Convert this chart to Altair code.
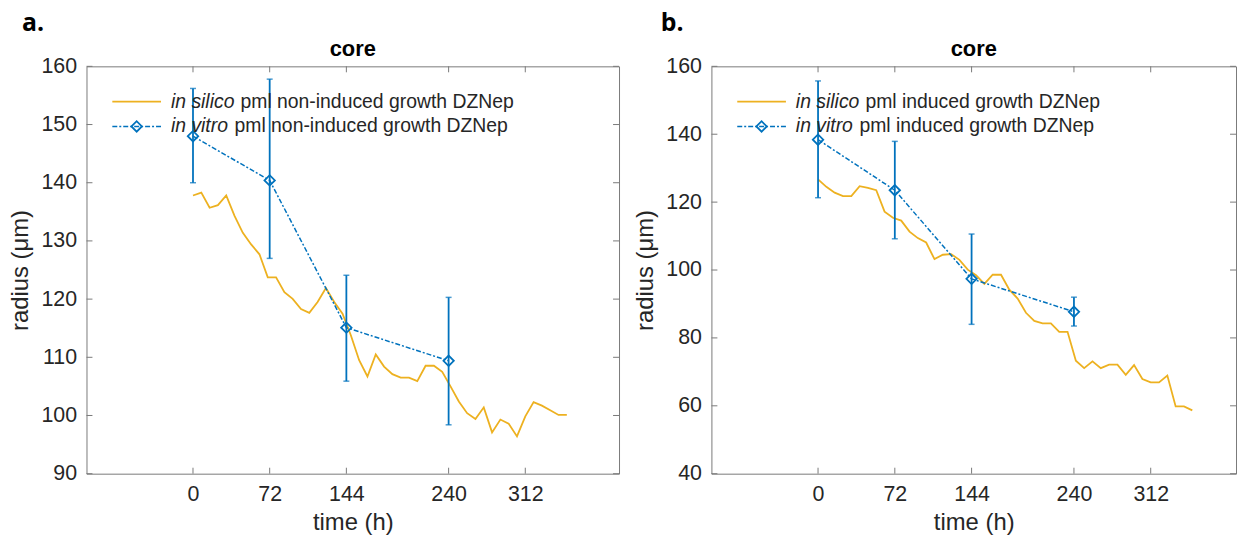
import altair as alt
import pandas as pd

# ---------------- data ----------------
time_ticks = [0, 72, 144, 240, 312]
sim_time = [0, 7.8, 15.6, 23.4, 31.2, 39, 46.8, 54.6, 62.4, 70.2, 78, 85.8, 93.6, 101.4,
            109.2, 117, 124.8, 132.6, 140.4, 148.2, 156, 163.8, 171.6, 179.4, 187.2, 195,
            202.8, 210.6, 218.4, 226.2, 234, 241.8, 249.6, 257.4, 265.2, 273, 280.8, 288.6,
            296.4, 304.2, 312, 319.8, 327.6, 335.4, 343.2, 351]
a_sim = [137.8, 138.3, 135.7, 136.15, 137.8, 134.3, 131.4, 129.4, 127.7, 123.75,
         123.75, 121.2, 120.05, 118.3, 117.65, 119.5, 121.9, 119.5, 117.5, 113.8,
         109.5, 106.7, 110.5, 108.4, 107.1, 106.5, 106.5, 105.9, 108.55, 108.55,
         107.5, 105.0, 102.4, 100.4, 99.4, 101.4, 97.1, 99.3, 98.6, 96.4,
         99.85, 102.3, 101.7, 100.9, 100.1, 100.1]
b_sim = [126.7, 124.5, 122.8, 121.75, 121.75, 124.7, 124.2, 123.5, 117.2, 115.4,
         114.55, 111.3, 109.4, 108.1, 103.2, 104.5, 104.7, 103.0, 100.1, 98.45,
         95.9, 98.6, 98.6, 94.2, 91.6, 87.4, 85.0, 84.3, 84.3, 81.8,
         81.8, 73.3, 71.1, 73.1, 71.1, 72.1, 72.1, 69.1, 72.0, 67.9,
         66.9, 66.9, 68.9, 59.8, 59.8, 58.65]

exp_time = [0, 72, 144, 240]
a_exp = [148.0, 140.4, 115.1, 109.4]
a_lo = [140.0, 127.0, 105.9, 98.4]
a_hi = [156.2, 157.8, 124.1, 120.3]
b_exp = [138.4, 123.5, 97.4, 87.7]
b_lo = [121.3, 109.2, 84.0, 83.5]
b_hi = [155.7, 137.9, 110.6, 92.0]

a_yticks = [90, 100, 110, 120, 130, 140, 150, 160]
b_yticks = [40, 60, 80, 100, 120, 140, 160]

ORANGE = "#EDB120"
BLUE = "#0072BD"
FRAME = "#7a7a7a"
TXT = "#262626"
H = 410
TICK = 6


def const_df():
    return pd.DataFrame({"k": [0]})


def panel(sim_vals, exp_vals, lo, hi, yticks, ydom, width, xdom, letter, letter_x,
          silico_rest, vitro_rest, rest_x1, rest_x2):
    xs = alt.Scale(domain=xdom, nice=False, zero=False)
    ys = alt.Scale(domain=ydom, nice=False, zero=False)
    xaxis = alt.Axis(values=time_ticks, title="time (h)")
    yaxis = alt.Axis(values=yticks, title="radius (μm)")
    sim = pd.DataFrame({"t": sim_time, "r": sim_vals})
    exp = pd.DataFrame({"t": exp_time, "r": exp_vals, "lo": lo, "hi": hi})

    def X(f="t"):
        return alt.X(f + ":Q", scale=xs, axis=xaxis)

    def Y(f="r"):
        return alt.Y(f + ":Q", scale=ys, axis=yaxis)

    line_sim = alt.Chart(sim).mark_line(color=ORANGE, strokeWidth=1.8).encode(x=X(), y=Y())
    err = alt.Chart(exp).mark_rule(color=BLUE, strokeWidth=1.8).encode(
        x=X(), y=Y("lo"), y2="hi:Q")
    cap_lo = alt.Chart(exp).mark_tick(color=BLUE, orient="horizontal", size=6, thickness=1.5).encode(
        x=X(), y=Y("lo"))
    cap_hi = alt.Chart(exp).mark_tick(color=BLUE, orient="horizontal", size=6, thickness=1.5).encode(
        x=X(), y=Y("hi"))
    line_exp = alt.Chart(exp).mark_line(color=BLUE, strokeWidth=1.5, strokeDash=[5, 2, 2, 2]).encode(
        x=X(), y=Y())
    pts = alt.Chart(exp).mark_point(shape="diamond", filled=False, color=BLUE, size=110,
                                    strokeWidth=1.8, opacity=1).encode(x=X(), y=Y())

    # inner ticks (MATLAB style box)
    xt = pd.DataFrame({"t": time_ticks})
    yt = pd.DataFrame({"r": yticks})
    xtick_b = alt.Chart(xt).mark_rule(color=FRAME, strokeWidth=1).encode(
        x=X(), y=alt.value(H), y2=alt.value(H - TICK))
    xtick_t = alt.Chart(xt).mark_rule(color=FRAME, strokeWidth=1).encode(
        x=X(), y=alt.value(0), y2=alt.value(TICK))
    ytick_l = alt.Chart(yt).mark_rule(color=FRAME, strokeWidth=1).encode(
        y=Y(), x=alt.value(0), x2=alt.value(TICK))
    ytick_r = alt.Chart(yt).mark_rule(color=FRAME, strokeWidth=1).encode(
        y=Y(), x=alt.value(width), x2=alt.value(width - TICK))

    # legend (manual, for mixed italic text)
    ly1, ly2 = 35.5, 60.5
    leg_l1 = alt.Chart(const_df()).mark_rule(color=ORANGE, strokeWidth=1.8).encode(
        x=alt.value(26), x2=alt.value(75), y=alt.value(ly1))
    leg_l2 = alt.Chart(const_df()).mark_rule(color=BLUE, strokeWidth=1.5, strokeDash=[5, 2, 2, 2]).encode(
        x=alt.value(26), x2=alt.value(75), y=alt.value(ly2))
    leg_p2 = alt.Chart(const_df()).mark_point(shape="diamond", filled=False, color=BLUE, size=110,
                                              strokeWidth=1.8, opacity=1).encode(
        x=alt.value(50.5), y=alt.value(ly2))
    tstyle = dict(fontSize=19.5, color=TXT, align="left", baseline="middle")
    leg_t1a = alt.Chart(const_df()).mark_text(text="in silico", fontStyle="italic", **tstyle).encode(
        x=alt.value(85), y=alt.value(ly1))
    leg_t1b = alt.Chart(const_df()).mark_text(text=silico_rest, **tstyle).encode(
        x=alt.value(rest_x1), y=alt.value(ly1))
    leg_t2a = alt.Chart(const_df()).mark_text(text="in vitro", fontStyle="italic", **tstyle).encode(
        x=alt.value(85), y=alt.value(ly2))
    leg_t2b = alt.Chart(const_df()).mark_text(text=vitro_rest, **tstyle).encode(
        x=alt.value(rest_x2), y=alt.value(ly2))

    title = alt.Chart(const_df()).mark_text(text="core", fontSize=22, fontWeight="bold", color="black",
                                            align="center", baseline="middle").encode(
        x=alt.value(width / 2), y=alt.value(-17))
    lab = alt.Chart(const_df()).mark_text(text=letter, fontSize=25, fontWeight="bold", color="black",
                                          font="Open Sans", align="left", baseline="middle").encode(
        x=alt.value(letter_x), y=alt.value(-44))

    return alt.layer(line_sim, line_exp, err, cap_lo, cap_hi, pts,
                     xtick_b, xtick_t, ytick_l, ytick_r,
                     leg_l1, leg_l2, leg_p2, leg_t1a, leg_t1b, leg_t2a, leg_t2b,
                     title, lab).properties(width=width, height=H)


pa = panel(a_sim, a_exp, a_lo, a_hi, a_yticks, [90, 160], 536, [-100, 400], "a.", -65,
           "pml non-induced growth DZNep", "pml non-induced growth DZNep", 155, 149)
pb = panel(b_sim, b_exp, b_lo, b_hi, b_yticks, [40, 160], 528, [-100, 392], "b.", -51,
           "pml induced growth DZNep", "pml induced growth DZNep", 155, 149)

chart = alt.hconcat(pa, pb, spacing=13).properties(
    padding={"left": 0, "top": 0, "right": 0, "bottom": 0}
).configure(font="Liberation Sans").configure_view(
    stroke=FRAME, strokeWidth=1
).configure_axis(
    grid=False, domain=False, ticks=False, tickSize=0,
    labelFontSize=21.5, labelColor=TXT, titleFontSize=24, titleColor=TXT,
    titleFontWeight="normal", labelFont="Liberation Sans", titleFont="Liberation Sans"
).configure_axisX(labelPadding=10, titlePadding=6).configure_axisY(labelPadding=10, titlePadding=8)

chart.save("out.html", embed_options={"renderer": "svg", "actions": False})
